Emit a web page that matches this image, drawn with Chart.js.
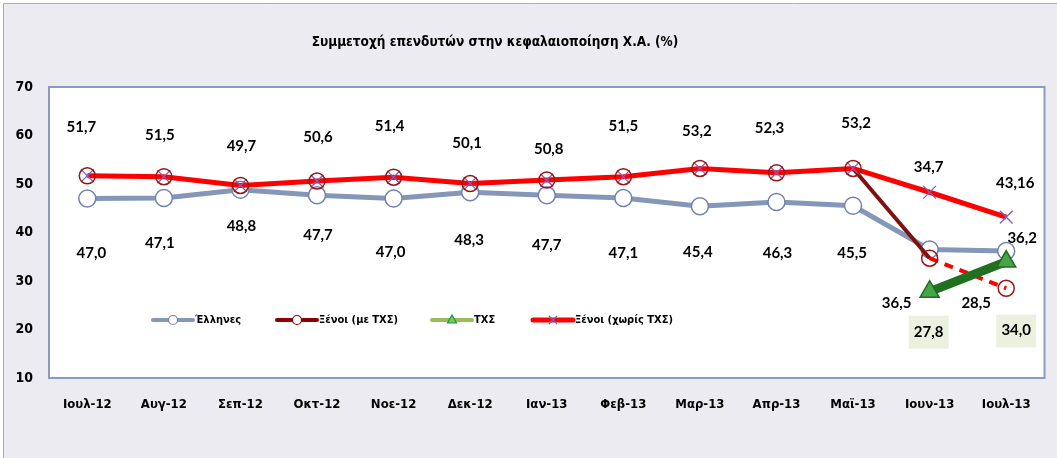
<!DOCTYPE html>
<html lang="el">
<head>
<meta charset="utf-8">
<title>Συμμετοχή επενδυτών στην κεφαλαιοποίηση Χ.Α.</title>
<script src="https://cdn.jsdelivr.net/npm/chart.js@4/dist/chart.umd.min.js"></script>
<style>
    html,body{margin:0;padding:0;background:#ffffff;}
    #wrap{width:1057px;height:458px;position:relative;}
</style>
</head>
<body>
<div id="wrap"><canvas id="investorsChart" width="1057" height="458"></canvas></div>
<script>
// =========================================
// Data
// =========================================

const months = [
    "Ιουλ-12","Αυγ-12","Σεπ-12","Οκτ-12","Νοε-12","Δεκ-12",
    "Ιαν-13","Φεβ-13","Μαρ-13","Απρ-13","Μαϊ-13","Ιουν-13","Ιουλ-13"
];

const ellines      = [47.0,47.1,48.8,47.7,47.0,48.3,47.7,47.1,45.4,46.3,45.5,36.5,36.2];
const xenoiMeTxs   = [51.7,51.5,49.7,50.6,51.4,50.1,50.8,51.5,53.2,52.3,53.2,34.7,28.5];
const txs          = [null,null,null,null,null,null,null,null,null,null,null,27.8,34.0];
const xenoiXorisTxs= [51.7,51.5,49.7,50.6,51.4,50.1,50.8,51.5,53.2,52.3,53.2,48.3,43.16];

const yTicks = [10,20,30,40,50,60,70];

const title = "Συμμετοχή επενδυτών στην κεφαλαιοποίηση Χ.Α. (%)";

const legendNames = ["Έλληνες","Ξένοι (με ΤΧΣ)","ΤΧΣ","Ξένοι (χωρίς ΤΧΣ)"];

// label text as shown in the sheet (comma decimals)
function fmt(v,d){
    return v.toFixed(d).replace(".",",");
}

// label placement: [series, index, dx, dy, boxed]
const labelSpots = [
    ["xenoi",0,-6,-49],["xenoi",1,-4,-42],["xenoi",2,1,-39],["xenoi",3,1,-44],
    ["xenoi",4,-4,-51],["xenoi",5,-3,-40],["xenoi",6,2,-31],["xenoi",7,0,-51],
    ["xenoi",8,-3,-37],["xenoi",9,-7,-45],["xenoi",10,3,-45],["xenoi",11,-1,-91],
    ["xenoi",12,-30,15],
    ["xoris",12,9,-34],
    ["ellines",0,4,55],["ellines",1,-4,45],["ellines",2,1,36],["ellines",3,1,40],
    ["ellines",4,-3,54],["ellines",5,-1,48],["ellines",6,0,50],["ellines",7,0,55],
    ["ellines",8,-2,46],["ellines",9,1,51],["ellines",10,-1,47],["ellines",11,-33,54],
    ["ellines",12,16,-13],
    ["txs",11,-1,40,true],["txs",12,10,69,true]
];

// =========================================
// Fonts / colours
// =========================================

const narrow = '"Liberation Sans Narrow","DejaVu Sans Condensed","Arial Narrow",sans-serif';
const labelFont = 'bold 15px Lato,"Liberation Sans",sans-serif';

const colGray = "#8497B8";
const colDarkRed = "#7F1010";
const colRed = "#FF0000";
const colGreen = "#1F701F";
const colPurple = "#7B5FC0";

// =========================================
// Frame, title, legend, labels
// =========================================

const framePlugin = {
    id:"frame",
    beforeDraw(chart){
        const ctx = chart.ctx;
        const a = chart.chartArea;
        ctx.save();
        ctx.fillStyle = "#ffffff";
        ctx.fillRect(0,0,chart.width,chart.height);
        ctx.fillStyle = "#EBEBF1";
        ctx.fillRect(3,3,chart.width-3,chart.height-3);
        ctx.strokeStyle = "#A3B0CC";
        ctx.lineWidth = 1;
        ctx.beginPath();
        ctx.moveTo(3.5,chart.height);
        ctx.lineTo(3.5,3.5);
        ctx.lineTo(chart.width,3.5);
        ctx.stroke();

        ctx.fillStyle = "#ffffff";
        ctx.fillRect(a.left,a.top,a.right-a.left,a.bottom-a.top);
        ctx.strokeStyle = "#8A9AC0";
        ctx.lineWidth = 2;
        ctx.strokeRect(a.left,a.top,a.right-a.left,a.bottom-a.top);

        ctx.fillStyle = "#000000";
        ctx.font = "bold 13.5px " + narrow;
        ctx.textAlign = "center";
        ctx.textBaseline = "middle";
        ctx.fillText(title,495,42);
        ctx.restore();
    }
};

function legendMarker(ctx,type,x,y){
    ctx.lineWidth = 1.2;
    if(type === "circleGray"){
        ctx.fillStyle = "#ffffff"; ctx.strokeStyle = "#6F82B0";
        ctx.beginPath(); ctx.arc(x,y,4.5,0,Math.PI*2); ctx.fill(); ctx.stroke();
    }else if(type === "circleRed"){
        ctx.fillStyle = "#ffffff"; ctx.strokeStyle = "#8B0000";
        ctx.beginPath(); ctx.arc(x,y,4.5,0,Math.PI*2); ctx.fill(); ctx.stroke();
    }else if(type === "triangle"){
        ctx.fillStyle = "#9BBB59"; ctx.strokeStyle = "#00A050";
        ctx.beginPath(); ctx.moveTo(x,y-5); ctx.lineTo(x+4.5,y+3); ctx.lineTo(x-4.5,y+3); ctx.closePath();
        ctx.fill(); ctx.stroke();
    }else{
        ctx.strokeStyle = colPurple;
        ctx.beginPath();
        ctx.moveTo(x-4,y-4); ctx.lineTo(x+4,y+4);
        ctx.moveTo(x+4,y-4); ctx.lineTo(x-4,y+4);
        ctx.stroke();
    }
}

const legendPlugin = {
    id:"customLegend",
    afterDatasetsDraw(chart){
        const ctx = chart.ctx;
        const items = [
            {x:153,color:colGray,w:4,m:"circleGray"},
            {x:277,color:"#8B0000",w:4,m:"circleRed"},
            {x:432,color:"#9BBB59",w:4,m:"triangle"},
            {x:533,color:colRed,w:5,m:"cross"}
        ];
        const y = 320;
        ctx.save();
        ctx.font = "bold 11px " + narrow;
        ctx.textBaseline = "middle";
        ctx.textAlign = "left";
        items.forEach((it,i)=>{
            ctx.strokeStyle = it.color;
            ctx.lineWidth = it.w;
            ctx.lineCap = "round";
            ctx.beginPath();
            ctx.moveTo(it.x,y);
            ctx.lineTo(it.x+40,y);
            ctx.stroke();
            ctx.lineCap = "butt";
            legendMarker(ctx,it.m,it.x+20,y);
            ctx.fillStyle = "#000000";
            ctx.fillText(legendNames[i],it.x+42,y);
        });
        ctx.restore();
    }
};

const seriesData = {ellines:ellines,xenoi:xenoiMeTxs,txs:txs,xoris:xenoiXorisTxs};

const labelPlugin = {
    id:"valueLabels",
    afterDatasetsDraw(chart){
        const ctx = chart.ctx;
        const xs = chart.scales.x;
        const ys = chart.scales.y;
        ctx.save();
        ctx.font = labelFont;
        ctx.textAlign = "center";
        ctx.textBaseline = "middle";
        labelSpots.forEach(s=>{
            const v = seriesData[s[0]][s[1]];
            const px = xs.getPixelForValue(s[1]) + s[2];
            const py = ys.getPixelForValue(v) + s[3];
            const txt = s[0] === "xoris" ? fmt(v,2) : fmt(v,1);
            if(s[4]){
                ctx.fillStyle = "#EBF1DE";
                ctx.fillRect(px-20,py-16,40,33);
            }
            ctx.fillStyle = "#000000";
            ctx.fillText(txt,px,py);
        });
        ctx.restore();
    }
};

// =========================================
// Chart
// =========================================

new Chart(document.getElementById("investorsChart"),{

    type:"line",

    data:{

        labels:months,

        datasets:[

            {
                label:legendNames[2],
                data:txs,
                order:0,
                borderColor:colGreen,
                borderWidth:9,
                pointStyle:"triangle",
                pointRadius:11,
                pointBackgroundColor:"#47A447",
                pointBorderColor:"#1F6B1F",
                pointBorderWidth:1.5
            },

            {
                label:legendNames[1],
                data:xenoiMeTxs,
                order:1,
                showLine:false,
                pointRadius:8,
                pointBackgroundColor:"rgba(255,255,255,0)",
                pointBorderColor:"#9A1414",
                pointBorderWidth:1.5
            },

            {
                label:legendNames[3],
                data:xenoiXorisTxs,
                order:2,
                borderColor:colRed,
                borderWidth:5,
                pointStyle:"crossRot",
                pointRadius:9,
                pointBorderColor:colPurple,
                pointBorderWidth:1.3
            },

            {
                label:legendNames[1] + " line",
                data:xenoiMeTxs,
                order:3,
                borderWidth:4,
                pointRadius:0,
                segment:{
                    borderColor:c => c.p0DataIndex < 10 ? "rgba(0,0,0,0)" :
                        (c.p0DataIndex === 10 ? colDarkRed : colRed),
                    borderDash:c => c.p0DataIndex === 11 ? [9,7] : undefined
                }
            },

            {
                label:legendNames[0],
                data:ellines,
                order:4,
                borderColor:colGray,
                borderWidth:5,
                pointRadius:8.5,
                pointBackgroundColor:"#ffffff",
                pointBorderColor:"#6F82B0",
                pointBorderWidth:1.5
            }

        ]

    },

    options:{

        responsive:false,

        animation:false,

        layout:{
            padding:{top:87,right:5,bottom:0,left:0}
        },

        plugins:{
            legend:{display:false},
            tooltip:{enabled:false},
            title:{display:false}
        },

        scales:{

            x:{
                offset:true,
                grid:{display:false,drawTicks:false},
                border:{display:false},
                ticks:{
                    color:"#000000",
                    padding:19,
                    maxRotation:0,
                    font:{family:narrow,size:13,weight:"bold"}
                },
                afterFit(scale){ scale.height = 80; }
            },

            y:{
                min:yTicks[0],
                max:yTicks[yTicks.length-1],
                grid:{display:false,drawTicks:false},
                border:{display:false},
                afterBuildTicks(scale){
                    scale.ticks = yTicks.map(v=>({value:v}));
                },
                ticks:{
                    color:"#000000",
                    padding:16,
                    font:{family:narrow,size:14,weight:"bold"}
                },
                afterFit(scale){ scale.width = 49; }
            }

        }

    },

    plugins:[framePlugin,labelPlugin,legendPlugin]

});
</script>
</body>
</html>
